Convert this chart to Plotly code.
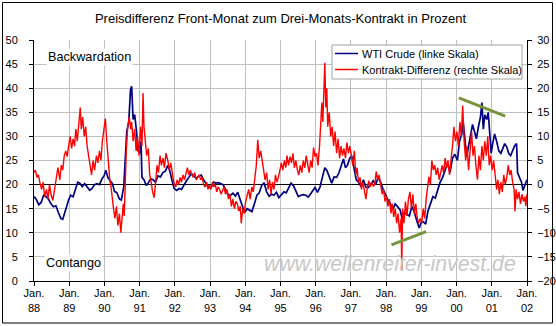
import plotly.graph_objects as go

# --- WTI crude price, left scale (USD per barrel) ---
wti_dates = [
    "1988-01-01", "1988-01-25", "1988-02-20", "1988-03-15", "1988-04-10", "1988-05-05", "1988-05-30",
    "1988-06-25", "1988-07-20", "1988-08-15", "1988-09-10", "1988-10-05", "1988-10-25", "1988-11-15",
    "1988-12-05", "1988-12-25", "1989-01-15", "1989-02-10", "1989-03-05", "1989-03-30", "1989-04-20",
    "1989-05-15", "1989-06-10", "1989-07-05", "1989-08-01", "1989-08-25", "1989-09-20", "1989-10-15",
    "1989-11-10", "1989-12-05", "1989-12-28", "1990-01-15", "1990-02-05", "1990-03-01", "1990-03-25",
    "1990-04-15", "1990-05-10", "1990-06-05", "1990-06-25", "1990-07-20", "1990-08-05", "1990-08-20",
    "1990-09-10", "1990-09-28", "1990-10-10", "1990-10-25", "1990-11-10", "1990-11-30", "1990-12-15",
    "1991-01-05", "1991-01-15", "1991-01-25", "1991-02-15", "1991-03-10", "1991-04-01", "1991-04-25",
    "1991-05-20", "1991-06-15", "1991-07-10", "1991-08-05", "1991-08-30", "1991-09-25", "1991-10-20",
    "1991-11-10", "1991-12-01", "1991-12-25", "1992-01-20", "1992-02-15", "1992-03-10", "1992-04-05",
    "1992-05-01", "1992-05-25", "1992-06-20", "1992-07-15", "1992-08-10", "1992-09-05", "1992-10-01",
    "1992-10-25", "1992-11-20", "1992-12-15", "1993-01-10", "1993-02-05", "1993-03-01", "1993-03-25",
    "1993-04-20", "1993-05-15", "1993-06-10", "1993-07-05", "1993-08-01", "1993-08-25", "1993-09-20",
    "1993-10-15", "1993-11-10", "1993-12-05", "1993-12-25", "1994-01-20", "1994-02-15", "1994-03-10",
    "1994-04-05", "1994-05-01", "1994-05-25", "1994-06-20", "1994-07-15", "1994-08-10", "1994-09-05",
    "1994-10-01", "1994-10-25", "1994-11-20", "1994-12-15", "1995-01-10", "1995-02-05", "1995-03-01",
    "1995-03-25", "1995-04-20", "1995-05-15", "1995-06-10", "1995-07-05", "1995-08-01", "1995-08-25",
    "1995-09-20", "1995-10-15", "1995-11-10", "1995-12-05", "1995-12-25", "1996-01-20", "1996-02-15",
    "1996-03-10", "1996-04-05", "1996-04-25", "1996-05-20", "1996-06-15", "1996-07-10", "1996-08-05",
    "1996-08-30", "1996-09-25", "1996-10-15", "1996-11-05", "1996-11-25", "1996-12-20", "1997-01-10",
    "1997-02-01", "1997-02-25", "1997-03-20", "1997-04-15", "1997-05-10", "1997-06-05", "1997-06-30",
    "1997-07-25", "1997-08-20", "1997-09-15", "1997-10-10", "1997-11-05", "1997-11-30", "1997-12-25",
    "1998-01-20", "1998-02-15", "1998-03-10", "1998-04-05", "1998-05-01", "1998-05-25", "1998-06-15",
    "1998-07-10", "1998-08-05", "1998-08-30", "1998-09-25", "1998-10-20", "1998-11-15", "1998-12-10",
    "1998-12-28", "1999-01-20", "1999-02-15", "1999-03-10", "1999-04-05", "1999-05-01", "1999-05-25",
    "1999-06-20", "1999-07-15", "1999-08-10", "1999-09-05", "1999-10-01", "1999-10-25", "1999-11-20",
    "1999-12-15", "2000-01-10", "2000-02-01", "2000-02-25", "2000-03-10", "2000-03-30", "2000-04-15",
    "2000-05-05", "2000-05-25", "2000-06-15", "2000-07-05", "2000-07-25", "2000-08-15", "2000-09-05",
    "2000-09-20", "2000-10-05", "2000-10-20", "2000-11-10", "2000-11-25", "2000-12-10", "2000-12-25",
    "2001-01-10", "2001-01-30", "2001-02-20", "2001-03-15", "2001-04-05", "2001-04-25", "2001-05-15",
    "2001-06-05", "2001-06-25", "2001-07-15", "2001-08-05", "2001-08-25", "2001-09-15", "2001-09-25",
    "2001-10-15", "2001-11-05", "2001-11-20", "2001-12-05", "2001-12-20", "2001-12-31",
]
wti_values = [
    17.5, 16.9, 15.8, 16.3, 17.8, 17.5, 17.0,
    16.0, 15.4, 15.6, 14.2, 13.0, 12.8, 14.3,
    15.3, 16.8, 17.8, 17.5, 19.0, 20.5, 20.3,
    19.6, 20.2, 19.5, 18.8, 19.2, 20.0, 20.2,
    20.0, 21.2, 21.8, 23.0, 21.5, 20.8, 20.2,
    18.6, 18.3, 17.0, 16.8, 19.5, 26.5, 31.0,
    33.0, 39.7, 40.4, 33.5, 34.5, 31.0, 27.0,
    26.5, 29.0, 21.5, 21.0, 19.8, 20.4, 21.2,
    21.0, 20.5, 21.8, 21.6, 22.5, 22.8, 24.0,
    22.8, 21.0, 19.2, 18.8, 19.2, 19.0, 20.0,
    20.8, 21.5, 22.3, 21.8, 21.3, 21.8, 22.0,
    21.0, 20.2, 19.5, 19.3, 20.5, 20.3, 20.4,
    20.2, 20.0, 19.0, 18.0, 17.8, 18.2, 17.6,
    18.4, 16.8, 15.2, 14.2, 15.0, 14.6, 14.4,
    16.0, 17.8, 18.3, 19.8, 20.4, 18.5, 17.6,
    18.0, 17.8, 18.4, 17.3, 17.8, 18.5, 18.3,
    19.2, 20.3, 19.8, 18.8, 17.5, 17.8, 17.9,
    17.8, 17.4, 18.1, 18.8, 19.4, 18.4, 19.5,
    21.5, 23.5, 23.0, 21.5, 20.3, 21.6, 21.5,
    22.5, 24.0, 25.3, 23.5, 24.0, 25.5, 25.8,
    23.5, 21.0, 20.5, 19.6, 21.0, 19.5, 19.4,
    20.0, 20.8, 20.0, 21.5, 20.5, 19.0, 18.0,
    16.8, 16.0, 14.8, 16.0, 15.3, 14.8, 13.0,
    14.2, 13.8, 13.5, 15.5, 14.3, 12.5, 11.0,
    12.0, 12.3, 11.8, 14.5, 16.0, 17.5, 17.2,
    18.8, 20.5, 21.5, 23.0, 24.5, 22.5, 25.5,
    26.3, 25.0, 29.0, 30.5, 33.0, 28.5, 25.8,
    28.0, 30.0, 32.5, 31.0, 29.5, 32.0, 34.0,
    37.0, 31.5, 34.5, 33.5, 35.0, 30.0, 26.5,
    28.5, 30.5, 29.0, 27.0, 26.5, 27.5, 28.5,
    27.8, 26.5, 26.0, 27.0, 28.0, 28.5, 22.5,
    21.5, 20.5, 18.8, 19.5, 20.5, 21.0,
]

# --- Front month vs. three-month contract, right scale (percent) ---
spread_dates = [
    "1988-01-01", "1988-01-15", "1988-02-01", "1988-02-15", "1988-03-01", "1988-03-20", "1988-04-05",
    "1988-04-20", "1988-05-10", "1988-05-25", "1988-06-10", "1988-06-25", "1988-07-15", "1988-08-01",
    "1988-08-20", "1988-09-05", "1988-09-25", "1988-10-10", "1988-10-25", "1988-11-10", "1988-11-25",
    "1988-12-10", "1988-12-25", "1989-01-10", "1989-01-25", "1989-02-10", "1989-02-25", "1989-03-10",
    "1989-03-25", "1989-04-10", "1989-04-25", "1989-05-05", "1989-05-20", "1989-06-05", "1989-06-20",
    "1989-07-05", "1989-07-20", "1989-08-05", "1989-08-20", "1989-09-05", "1989-09-20", "1989-10-10",
    "1989-10-25", "1989-11-10", "1989-11-25", "1989-12-10", "1989-12-25", "1990-01-10", "1990-01-25",
    "1990-02-10", "1990-02-25", "1990-03-10", "1990-03-25", "1990-04-05", "1990-04-20", "1990-05-05",
    "1990-05-20", "1990-06-05", "1990-06-20", "1990-07-01", "1990-07-15", "1990-07-25", "1990-08-05",
    "1990-08-15", "1990-08-30", "1990-09-15", "1990-09-30", "1990-10-10", "1990-10-25", "1990-11-10",
    "1990-11-25", "1990-12-10", "1990-12-25", "1991-01-10", "1991-01-25", "1991-02-05", "1991-02-15",
    "1991-03-01", "1991-03-15", "1991-04-01", "1991-04-15", "1991-05-01", "1991-05-15", "1991-06-01",
    "1991-06-15", "1991-07-01", "1991-07-15", "1991-08-01", "1991-08-15", "1991-09-01", "1991-09-15",
    "1991-10-01", "1991-10-20", "1991-11-05", "1991-11-20", "1991-12-05", "1991-12-20", "1992-01-10",
    "1992-01-25", "1992-02-10", "1992-02-25", "1992-03-10", "1992-03-25", "1992-04-10", "1992-04-25",
    "1992-05-10", "1992-05-25", "1992-06-10", "1992-06-25", "1992-07-10", "1992-07-25", "1992-08-10",
    "1992-08-25", "1992-09-10", "1992-09-25", "1992-10-10", "1992-10-25", "1992-11-10", "1992-11-25",
    "1992-12-10", "1992-12-25", "1993-01-10", "1993-01-25", "1993-02-10", "1993-02-25", "1993-03-10",
    "1993-03-25", "1993-04-10", "1993-04-25", "1993-05-10", "1993-05-25", "1993-06-10", "1993-06-25",
    "1993-07-10", "1993-07-25", "1993-08-10", "1993-08-25", "1993-09-10", "1993-09-25", "1993-10-10",
    "1993-10-25", "1993-11-10", "1993-11-20", "1993-12-05", "1993-12-20", "1994-01-05", "1994-01-20",
    "1994-02-05", "1994-02-20", "1994-03-10", "1994-03-25", "1994-04-10", "1994-04-25", "1994-05-10",
    "1994-05-25", "1994-06-10", "1994-06-25", "1994-07-10", "1994-07-25", "1994-08-10", "1994-08-25",
    "1994-09-10", "1994-09-25", "1994-10-10", "1994-10-25", "1994-11-10", "1994-11-25", "1994-12-10",
    "1994-12-25", "1995-01-10", "1995-01-25", "1995-02-10", "1995-02-25", "1995-03-10", "1995-03-25",
    "1995-04-10", "1995-04-25", "1995-05-10", "1995-05-25", "1995-06-10", "1995-06-25", "1995-07-10",
    "1995-07-25", "1995-08-10", "1995-08-25", "1995-09-10", "1995-09-25", "1995-10-10", "1995-10-25",
    "1995-11-10", "1995-11-25", "1995-12-10", "1995-12-25", "1996-01-10", "1996-01-25", "1996-02-10",
    "1996-02-25", "1996-03-05", "1996-03-15", "1996-03-25", "1996-04-05", "1996-04-15", "1996-04-25",
    "1996-05-05", "1996-05-20", "1996-06-05", "1996-06-20", "1996-07-05", "1996-07-20", "1996-08-05",
    "1996-08-20", "1996-09-05", "1996-09-20", "1996-10-05", "1996-10-20", "1996-11-05", "1996-11-20",
    "1996-12-05", "1996-12-20", "1997-01-05", "1997-01-20", "1997-02-05", "1997-02-20", "1997-03-05",
    "1997-03-20", "1997-04-05", "1997-04-20", "1997-05-05", "1997-05-20", "1997-06-05", "1997-06-20",
    "1997-07-05", "1997-07-20", "1997-08-05", "1997-08-20", "1997-09-05", "1997-09-20", "1997-10-05",
    "1997-10-20", "1997-11-05", "1997-11-20", "1997-12-05", "1997-12-20", "1998-01-05", "1998-01-20",
    "1998-02-05", "1998-02-20", "1998-03-05", "1998-03-20", "1998-04-05", "1998-04-20", "1998-05-05",
    "1998-05-20", "1998-06-05", "1998-06-12", "1998-06-20", "1998-07-05", "1998-07-20", "1998-08-05",
    "1998-08-20", "1998-09-05", "1998-09-20", "1998-10-05", "1998-10-20", "1998-11-05", "1998-11-20",
    "1998-12-05", "1998-12-20", "1999-01-05", "1999-01-20", "1999-02-05", "1999-02-20", "1999-03-05",
    "1999-03-20", "1999-04-05", "1999-04-20", "1999-05-05", "1999-05-20", "1999-06-05", "1999-06-20",
    "1999-07-05", "1999-07-20", "1999-08-05", "1999-08-20", "1999-09-05", "1999-09-20", "1999-10-05",
    "1999-10-20", "1999-11-05", "1999-11-20", "1999-12-05", "1999-12-20", "2000-01-05", "2000-01-20",
    "2000-02-05", "2000-02-20", "2000-03-05", "2000-03-20", "2000-04-05", "2000-04-20", "2000-05-05",
    "2000-05-20", "2000-06-05", "2000-06-20", "2000-07-05", "2000-07-20", "2000-08-05", "2000-08-20",
    "2000-09-05", "2000-09-20", "2000-10-05", "2000-10-20", "2000-11-05", "2000-11-20", "2000-12-05",
    "2000-12-20", "2001-01-05", "2001-01-20", "2001-02-05", "2001-02-20", "2001-03-05", "2001-03-20",
    "2001-04-05", "2001-04-20", "2001-05-05", "2001-05-20", "2001-06-05", "2001-06-20", "2001-07-05",
    "2001-07-20", "2001-08-05", "2001-08-20", "2001-08-30", "2001-09-10", "2001-09-25", "2001-10-10",
    "2001-10-25", "2001-11-10", "2001-11-25", "2001-12-10", "2001-12-20", "2001-12-31",
]
spread_values = [
    2.5, 3.0, 1.5, 2.0, 0.5, -1.0, 0.5,
    -2.5, -1.0, -3.0, 0.0, -2.0, -3.3, -1.0,
    1.5, 3.5, 1.0, 4.0, 3.0, 6.0, 7.0,
    5.8, 8.0, 10.0, 7.5, 9.5, 8.0, 11.5,
    9.0, 13.0, 16.0, 11.5, 14.0, 10.0, 12.0,
    8.0, 6.0, 4.0, 2.0, 5.0, 3.0, 6.0,
    4.5, 7.0, 5.0, 9.0, 11.0, 13.7, 9.0,
    4.0, 1.0, -0.5, -3.5, -5.0, -7.0, -4.5,
    -8.5, -6.0, -10.0, -7.5, -4.0, -6.5, 2.0,
    7.0, 12.0, 14.0, 11.5, 13.0, 9.0, 11.5,
    7.0, 10.0, 6.0, 12.0, 8.0, 19.0, 12.0,
    9.0, 6.0, 7.5, 2.0, 0.5, -1.5, -2.7,
    0.5, 4.0, 2.5, 6.0, 4.0, 5.5, 3.5,
    6.5, 5.0, 3.0, 4.5, 2.0, 0.5, -0.5,
    1.0, 0.0, 1.5, 0.5, 2.0, 1.0, 2.5,
    3.5, 2.0, 3.0, 2.0, 1.5, 2.5, 1.0,
    1.5, 2.0, 1.0, 1.5, 0.0, -0.5, 0.5,
    -1.0, 0.0, -1.0, 0.5, -0.5, 0.0, -1.5,
    -0.5, -1.0, -2.0, -1.0, -0.5, -2.0, -1.0,
    -3.0, -2.0, -4.5, -3.0, -5.0, -3.5, -4.0,
    -5.5, -4.5, -8.0, -5.0, -6.0, -3.5, -2.0,
    -1.0, -3.0, -0.5, -1.5, 2.0, 4.0, 9.3,
    5.5, 7.0, 5.0, 3.0, 1.0, 2.5, -1.0,
    1.0, -2.0, 0.5, -1.0, 2.0, 0.5, 1.5,
    3.0, 4.5, 3.0, 5.0, 3.5, 6.0, 4.0,
    5.8, 4.5, 6.5, 3.5, 5.0, 3.0, 2.0,
    4.0, 2.5, 5.0, 3.5, 6.0, 4.0, 2.5,
    5.0, 3.5, 7.7, 5.8, 6.5, 4.0, 8.0,
    13.0, 17.0, 13.0, 18.0, 25.3, 16.0, 20.0,
    12.0, 15.0, 10.0, 12.0, 8.0, 11.0, 6.5,
    9.5, 5.5, 8.0, 6.0, 7.5, 5.5, 8.7,
    6.5, 8.0, 6.0, 4.0, 7.0, 2.0, 3.5,
    0.5, 1.5, -1.0, 0.5, -1.5, -3.0, -0.5,
    0.8, -0.5, 0.5, -0.3, 0.0, 2.7, 1.0,
    2.0, -0.5, -2.0, -1.0, -3.5, -2.5, -4.5,
    -3.0, -6.0, -4.0, -6.7, -5.0, -8.0, -6.0,
    -10.0, -7.0, -17.7, -5.0, -8.0, -3.5, -6.5,
    -3.0, -1.5, -5.0, -2.0, -6.0, -4.0, -7.0,
    -8.0, -7.0, -8.0, -5.0, -7.0, -3.0, -1.0,
    1.6, 0.0, 5.0, 3.0, 4.0, 2.0, 3.5,
    1.0, 2.5, 4.0, 2.5, 5.5, 3.5, 5.0,
    2.0, 4.5, 8.0, 12.0, 9.0, 11.0, 8.0,
    13.0, 10.0, 16.4, 9.0, 5.0, 8.0, 3.0,
    7.0, 11.0, 6.0, 8.0, 4.0, 1.0, 6.0,
    3.0, 8.0, 5.0, 9.0, 6.0, 10.0, 4.0,
    6.0, 3.0, 5.0, 1.5, -1.0, 1.0, -2.0,
    0.5, -1.5, 2.0, 0.0, 1.5, 4.0, 2.0,
    3.0, 0.5, -1.0, -5.6, -1.0, -3.0, -1.5,
    -4.0, -2.0, -3.5, -2.5, -4.5, -2.0,
]

# Axis ticks: one per January
year_ticks = [
    "1988-01-01", "1989-01-01", "1990-01-01", "1991-01-01", "1992-01-01",
    "1993-01-01", "1994-01-01", "1995-01-01", "1996-01-01", "1997-01-01",
    "1998-01-01", "1999-01-01", "2000-01-01", "2001-01-01", "2002-01-01",
]
year_labels = [
    "Jan.<br>88", "Jan.<br>89", "Jan.<br>90", "Jan.<br>91", "Jan.<br>92",
    "Jan.<br>93", "Jan.<br>94", "Jan.<br>95", "Jan.<br>96", "Jan.<br>97",
    "Jan.<br>98", "Jan.<br>99", "Jan.<br>00", "Jan.<br>01", "Jan.<br>02",
]

series_names = ["WTI Crude (linke Skala)", "Kontrakt-Differenz (rechte Skala)"]
series_colors = ["#000080", "#FF0000"]

# Trend lines (date, WTI price) marking the diverging lows and highs
support_line = [("1998-02-25", 7.5), ("1999-02-20", 10.25)]
resistance_line = [("2000-01-25", 38.0), ("2001-05-20", 34.2)]

FONT = "Liberation Sans, Arial, sans-serif"

# Plot area in pixels (left, top, width, height)
L, T, W, H = 34, 40, 493, 241


def px_x(p):
    return (p - L) / W


def px_y(p):
    return (T + H - p) / H


fig = go.Figure()
fig.add_trace(go.Scatter(
    x=wti_dates, y=wti_values, mode="lines", name=series_names[0],
    line=dict(color=series_colors[0], width=1.7), yaxis="y", showlegend=False,
))
fig.add_trace(go.Scatter(
    x=spread_dates, y=spread_values, mode="lines", name=series_names[1],
    line=dict(color=series_colors[1], width=1.4), yaxis="y2", showlegend=False,
))

for (x0, y0), (x1, y1) in (support_line, resistance_line):
    fig.add_shape(type="line", xref="x", yref="y", x0=x0, y0=y0, x1=x1, y1=y1,
                  line=dict(color="#77933C", width=3))

# Legend box with line samples
fig.add_shape(type="rect", xref="paper", yref="paper",
              x0=px_x(332), x1=px_x(522), y0=px_y(79), y1=px_y(45),
              fillcolor="#FFFFFF", line=dict(color="#A0A0A0", width=1), layer="above")
for i, (name, color) in enumerate(zip(series_names, series_colors)):
    row_y = 53.5 + 16 * i
    fig.add_shape(type="line", xref="paper", yref="paper",
                  x0=px_x(335), x1=px_x(358), y0=px_y(row_y), y1=px_y(row_y),
                  line=dict(color=color, width=1.5), layer="above")
    fig.add_annotation(xref="paper", yref="paper", x=px_x(361), y=px_y(row_y),
                       xanchor="left", yanchor="middle", text=name, showarrow=False,
                       font=dict(family=FONT, size=11, color="#000000"), borderpad=0)

# Frame around the whole chart
fig.add_shape(type="rect", xref="paper", yref="paper",
              x0=px_x(2.5), x1=px_x(552.5), y0=px_y(323), y1=px_y(2.5),
              line=dict(color="#000000", width=1), layer="above")

fig.add_annotation(xref="paper", yref="paper", x=px_x(46), y=px_y(57),
                   xanchor="left", yanchor="middle", text="Backwardation", showarrow=False,
                   font=dict(family=FONT, size=12.7, color="#000000"), bgcolor="#FFFFFF", borderpad=1)
fig.add_annotation(xref="paper", yref="paper", x=px_x(43.5), y=px_y(263),
                   xanchor="left", yanchor="middle", text="Contango", showarrow=False,
                   font=dict(family=FONT, size=12.7, color="#000000"), bgcolor="#FFFFFF", borderpad=1)
fig.add_annotation(xref="paper", yref="paper", x=px_x(390), y=px_y(264),
                   xanchor="center", yanchor="middle", text="www.wellenreiter-invest.de",
                   showarrow=False,
                   font=dict(family=FONT, size=21.3, color="#C8C8C8", style="italic"))

fig.update_layout(
    width=556, height=326,
    margin=dict(l=L, r=556 - L - W, t=T, b=326 - T - H, pad=0, autoexpand=False),
    paper_bgcolor="#FFFFFF", plot_bgcolor="#FFFFFF",
    font=dict(family=FONT, size=11, color="#000000"),
    title=dict(text="Preisdifferenz Front-Monat zum Drei-Monats-Kontrakt in Prozent",
               x=0.5, xref="paper", xanchor="center",
               y=1 - 18 / 326, yref="container", yanchor="middle",
               font=dict(family=FONT, size=13, color="#000000")),
    showlegend=False,
    xaxis=dict(type="date", range=["1988-01-01", "2002-01-01"], automargin=False,
               tickmode="array", tickvals=year_ticks, ticktext=year_labels,
               showgrid=True, gridcolor="#C0C0C0", gridwidth=1,
               showline=True, linecolor="#000000", linewidth=1,
               ticks="outside", ticklen=4, tickcolor="#000000",
               ticklabelstandoff=-2, zeroline=False,
               tickfont=dict(family=FONT, size=11, color="#000000")),
    yaxis=dict(range=[0, 50], dtick=5, tick0=0, automargin=False,
               showgrid=True, gridcolor="#C0C0C0", gridwidth=1,
               showline=True, linecolor="#000000", linewidth=1,
               ticks="outside", ticklen=4, tickcolor="#000000",
               ticklabelstandoff=9, zeroline=False,
               tickfont=dict(family=FONT, size=11, color="#000000")),
    yaxis2=dict(range=[-20, 30], dtick=5, tick0=0, overlaying="y", side="right",
                automargin=False,
                showgrid=False, showline=True, linecolor="#000000", linewidth=1,
                ticks="outside", ticklen=4, tickcolor="#000000",
                ticklabelstandoff=3,
                zeroline=True, zerolinecolor="#000000", zerolinewidth=1.3,
                tickfont=dict(family=FONT, size=11, color="#000000")),
)

fig.write_html("out.html")
